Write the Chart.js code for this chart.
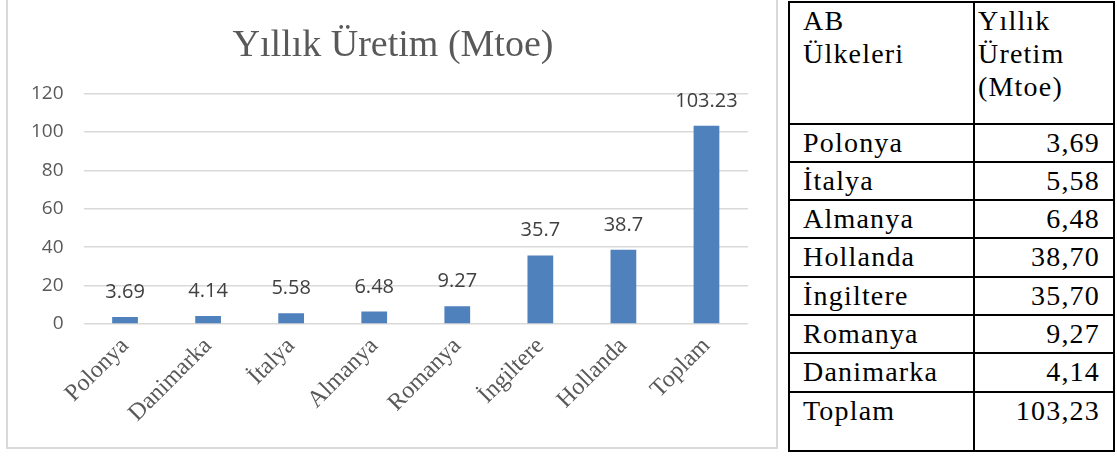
<!DOCTYPE html>
<html>
<head>
<meta charset="utf-8">
<script src="https://cdn.jsdelivr.net/npm/chart.js@4.4.1/dist/chart.umd.min.js"></script>
<style>
html,body{margin:0;padding:0;background:#fff;width:1117px;height:457px;overflow:hidden;}
#frame{position:absolute;left:6px;top:-2px;width:772px;height:451px;border:2px solid #d9d9d9;box-sizing:border-box;}
#chart{position:absolute;left:0;top:0;}
#tbl{position:absolute;left:788px;top:1px;border-collapse:collapse;table-layout:fixed;font-family:"Liberation Serif","Times New Roman",serif;font-size:28px;line-height:33px;color:#000;letter-spacing:1.2px;}
#tbl td{border:2px solid #000;vertical-align:top;padding:1px 13px 0 13px;box-sizing:border-box;overflow:hidden;white-space:nowrap;}
#tbl td.num{text-align:right;}
#tbl td.h2{padding-left:3px;}
</style>
</head>
<body>
<div id="frame"></div>
<canvas id="chart" width="780" height="449"></canvas>
<table id="tbl"><colgroup><col style="width:185px"><col style="width:140px"></colgroup><tbody id="tb"></tbody></table>
<script>
// ---- data ----
const chartTitle = 'Yıllık Üretim (Mtoe)';
const categories = ['Polonya', 'Danimarka', 'İtalya', 'Almanya', 'Romanya', 'İngiltere', 'Hollanda', 'Toplam'];
const values = [3.69, 4.14, 5.58, 6.48, 9.27, 35.7, 38.7, 103.23];
const yTickMin = 0, yTickMax = 120, yTickStep = 20;

const tableHeader = [['AB', 'Ülkeleri'], ['Yıllık', 'Üretim', '(Mtoe)']];
const tableCountries = ['Polonya', 'İtalya', 'Almanya', 'Hollanda', 'İngiltere', 'Romanya', 'Danimarka', 'Toplam'];
const tableValues = ['3,69', '5,58', '6,48', '38,70', '35,70', '9,27', '4,14', '103,23'];

// ---- table ----
const tb = document.getElementById('tb');
const rowHeights = [122, 38, 38, 38, 39, 38, 38, 39, 59];
let hr = document.createElement('tr');
tableHeader.forEach((lines, i) => {
  const td = document.createElement('td');
  td.innerHTML = lines.join('<br>');
  td.style.height = rowHeights[0] + 'px';
  if (i === 1) td.className = 'h2';
  hr.appendChild(td);
});
tb.appendChild(hr);
tableCountries.forEach((c, i) => {
  const tr = document.createElement('tr');
  const a = document.createElement('td');
  a.textContent = c;
  a.style.height = rowHeights[i + 1] + 'px';
  const b = document.createElement('td');
  b.textContent = tableValues[i];
  b.className = 'num';
  b.style.height = rowHeights[i + 1] + 'px';
  tr.appendChild(a); tr.appendChild(b);
  tb.appendChild(tr);
});

// ---- chart ----
const valueLabels = {
  id: 'valueLabels',
  afterDatasetsDraw(chart) {
    const ctx = chart.ctx;
    const meta = chart.getDatasetMeta(0);
    ctx.save();
    ctx.font = '20px "Open Sans", sans-serif';
    ctx.fillStyle = '#404040';
    ctx.textAlign = 'center';
    ctx.textBaseline = 'alphabetic';
    meta.data.forEach((bar, i) => {
      ctx.fillText(String(chart.data.datasets[0].data[i]), bar.x, bar.y - 19);
    });
    ctx.restore();
  }
};
// centre the title over the framed chart (box starts further right than the y-axis labels)
const titleShift = {
  id: 'titleShift',
  afterLayout(chart) {
    const t = chart.titleBlock;
    if (t) { t.left += 38; t.width = t.right - t.left; }
  }
};

new Chart(document.getElementById('chart'), {
  type: 'bar',
  data: {
    labels: categories,
    datasets: [{
      data: values,
      backgroundColor: '#4f81bd',
      borderWidth: 0,
      barPercentage: 0.31,
      categoryPercentage: 1.0
    }]
  },
  options: {
    responsive: false,
    devicePixelRatio: 1,
    animation: false,
    layout: { padding: { left: 0, right: 32, top: 0, bottom: 0 } },
    plugins: {
      legend: { display: false },
      tooltip: { enabled: false },
      title: {
        display: true,
        text: chartTitle,
        color: '#595959',
        font: { family: '"Liberation Serif", "Times New Roman", serif', size: 38, weight: 'normal', lineHeight: 1.2 },
        padding: { top: 23, bottom: 25 }
      }
    },
    scales: {
      x: {
        grid: { display: false, drawTicks: false },
        border: { display: false },
        ticks: {
          autoSkip: false,
          minRotation: 45,
          maxRotation: 45,
          padding: 8,
          color: '#595959',
          font: { family: '"Liberation Serif", "Times New Roman", serif', size: 24 }
        },
        afterFit(scale) { scale.height = 125; }
      },
      y: {
        min: yTickMin,
        max: yTickMax,
        grid: { color: '#d9d9d9', lineWidth: 1.5, drawTicks: false },
        border: { display: false },
        ticks: {
          stepSize: yTickStep,
          padding: 20,
          color: '#595959',
          font: { family: '"Open Sans", sans-serif', size: 19 }
        },
        afterFit(scale) { scale.width = 83.5; }
      }
    }
  },
  plugins: [valueLabels, titleShift]
});
</script>
</body>
</html>
